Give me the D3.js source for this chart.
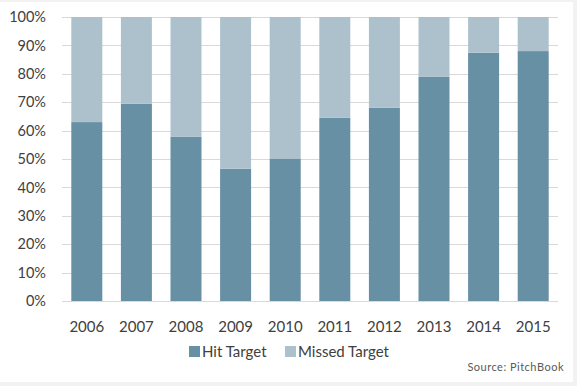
<!DOCTYPE html>
<html>
<head>
<meta charset="utf-8">
<script src="https://cdn.jsdelivr.net/npm/d3@7"></script>
<style>
  html, body { margin: 0; padding: 0; background: #f2f2f2; }
  svg { display: block; }
  text { font-family: Lato, "Open Sans", sans-serif; }
</style>
</head>
<body>
<svg id="chart" width="577" height="386"></svg>
<script>
const years = ["2006","2007","2008","2009","2010","2011","2012","2013","2014","2015"];
const hitTarget = [63.0, 69.5, 57.9, 46.6, 50.2, 64.5, 68.1, 78.9, 87.4, 88.0];
const missedTarget = hitTarget.map(v => 100 - v);
const seriesNames = ["Hit Target", "Missed Target"];
const seriesColors = ["#6890a5", "#adc1cd"];
const yTicks = [0,10,20,30,40,50,60,70,80,90,100];

const svg = d3.select("#chart");
svg.append("rect").attr("x",0).attr("y",2).attr("width",573).attr("height",380).attr("fill","#ffffff");

const x = d3.scaleBand().domain(years).range([62, 558]).paddingInner(0.375).paddingOuter(0.1875);
const y = d3.scaleLinear().domain([0,100]).range([301, 17]);

// gridlines
svg.append("g").selectAll("line").data(yTicks).join("line")
  .attr("x1", 62).attr("x2", 558)
  .attr("y1", d => Math.round(y(d)) + 0.5).attr("y2", d => Math.round(y(d)) + 0.5)
  .attr("stroke", "#d9d9d9").attr("stroke-width", 1);

const data = years.map((yr, i) => ({year: yr, hit: hitTarget[i], missed: missedTarget[i]}));
const stack = d3.stack().keys(["hit","missed"])(data);

svg.append("g").selectAll("g").data(stack).join("g")
  .attr("fill", (d, i) => seriesColors[i])
  .selectAll("rect").data(d => d).join("rect")
  .attr("x", d => x(d.data.year))
  .attr("width", x.bandwidth())
  .attr("y", d => y(d[1]))
  .attr("height", d => y(d[0]) - y(d[1]));

// y axis labels
const yAxis = d3.axisLeft(y).tickValues(yTicks).tickFormat(d => d + "%").tickSize(0).tickPadding(0);
const yg = svg.append("g").attr("transform", "translate(46,0)").call(yAxis);
yg.select(".domain").remove();
yg.selectAll("text").attr("font-size", 14.5).attr("fill", "#404040").attr("font-family", "Lato, sans-serif");

// x axis labels
const xAxis = d3.axisBottom(x).tickSize(0).tickPadding(0);
const xg = svg.append("g").attr("transform", "translate(0,321)").call(xAxis);
xg.select(".domain").remove();
xg.selectAll("text").attr("font-size", 15).attr("fill", "#404040").attr("font-family", "Lato, sans-serif");

// legend
const legendItems = [{name: seriesNames[0], color: seriesColors[0], x: 189}, {name: seriesNames[1], color: seriesColors[1], x: 285}];
const lg = svg.append("g");
legendItems.forEach(it => {
  lg.append("rect").attr("x", it.x).attr("y", 346).attr("width", 11).attr("height", 11).attr("fill", it.color);
  lg.append("text").attr("x", it.x + 13).attr("y", 352).attr("dy", "0.35em")
    .attr("font-size", 15).attr("fill", "#404040").text(it.name);
});

svg.append("text").attr("x", 564).attr("y", 371).attr("text-anchor", "end")
  .attr("font-size", 11).attr("fill", "#595959").attr("letter-spacing", "0.5px").text("Source: PitchBook");
</script>
</body>
</html>
